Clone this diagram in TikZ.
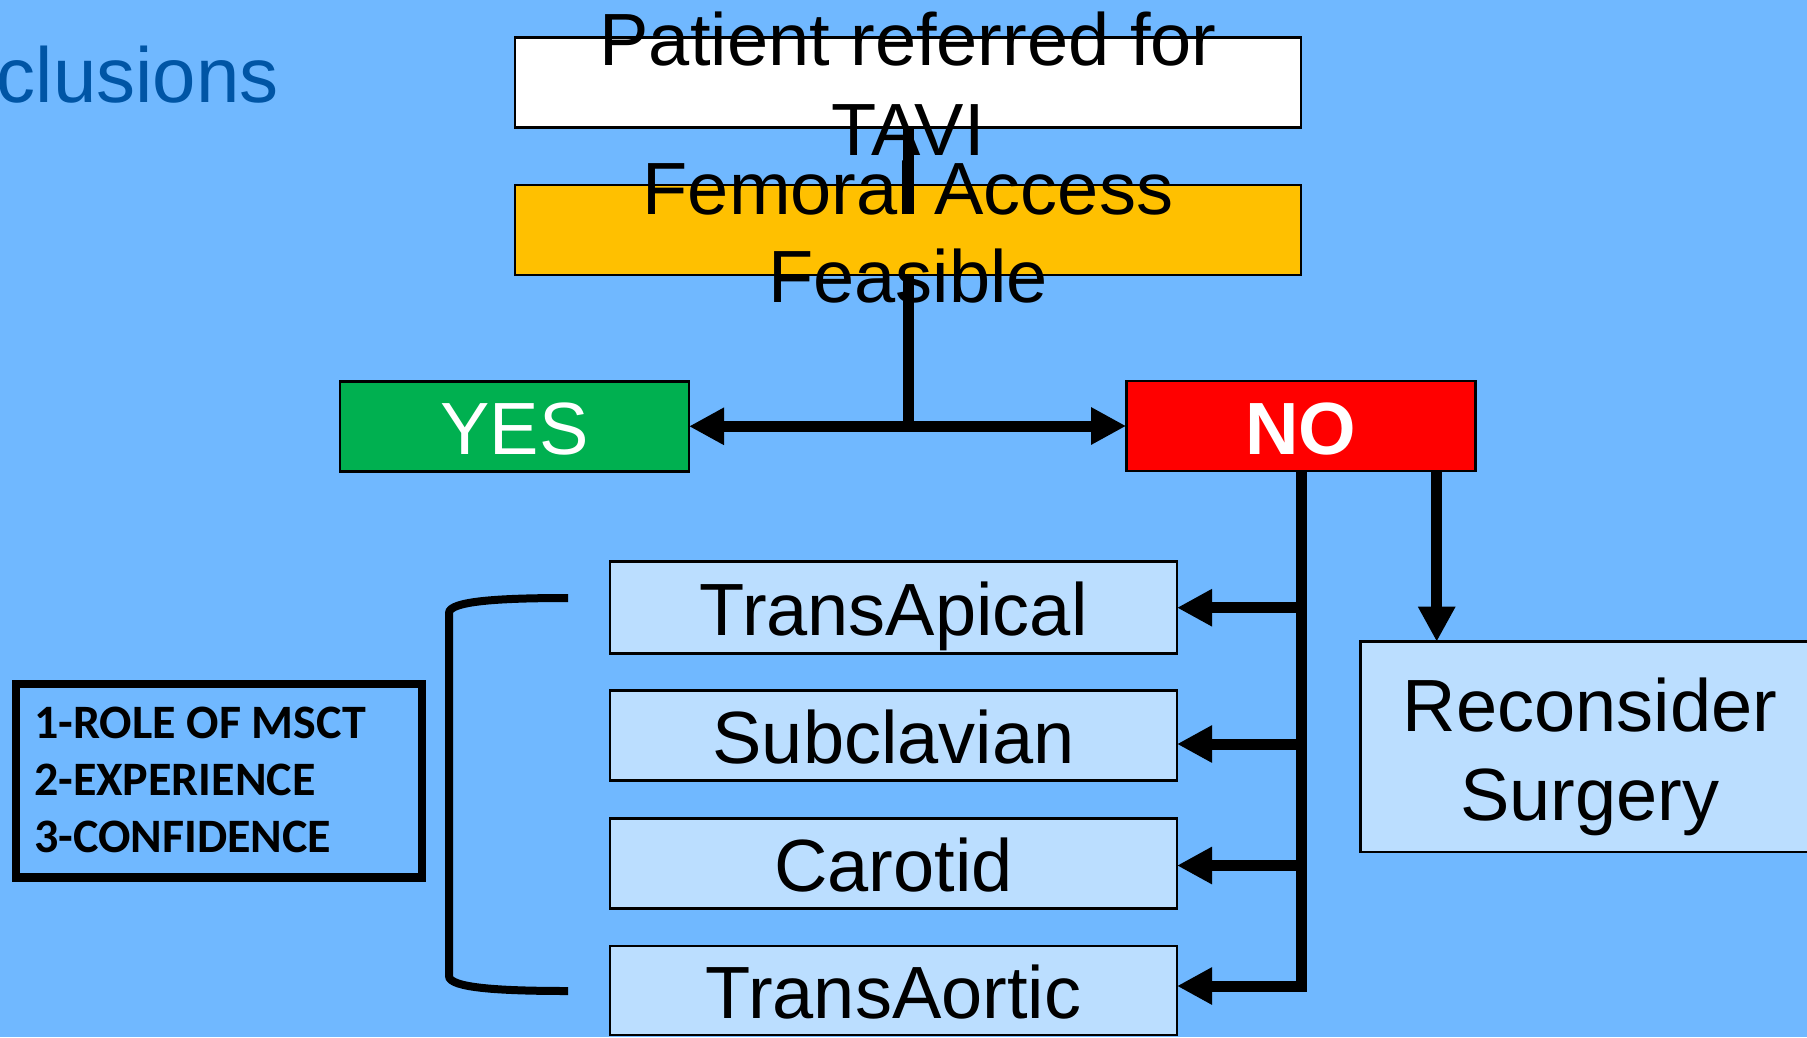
\documentclass[tikz,border=0pt]{standalone}
\usepackage{fontspec}
\setmainfont{Liberation Sans}
\newfontfamily\critfont{Carlito}
\usetikzlibrary{arrows.meta}
\definecolor{bgblue}{RGB}{112,184,255}
\definecolor{titleblue}{RGB}{0,85,165}
\definecolor{amber}{RGB}{255,192,0}
\definecolor{okgreen}{RGB}{0,176,80}
\definecolor{paleblue}{RGB}{187,222,255}
\begin{document}
\begin{tikzpicture}[x=1pt,y=-1pt,
  every node/.style={inner sep=0pt, outer sep=0pt},
  bigtext/.style={font=\fontsize{74pt}{89pt}\selectfont},
  flowbox/.style={draw=black, line width=2.8pt, rectangle, bigtext,
    minimum height=90pt, text height=56pt, text depth=0pt},
  routebox/.style={flowbox, fill=paleblue, minimum width=567pt},
  link/.style={line width=11pt, draw=black},
  arrowed/.style={-{Triangle[length=35pt,width=35pt]}},
  critline/.style={font=\critfont\bfseries\fontsize{48pt}{57pt}\selectfont, anchor=base west}]

% page and background
\useasboundingbox (0,0) rectangle (1807,1037);
\fill[bgblue] (0,0) rectangle (1807,1037);

% slide title remnant
\node[font=\fontsize{78pt}{94pt}\selectfont, text=titleblue, anchor=base east] (ttl) at (278.5,102) {clusions};

% criteria box
\node[draw=black, line width=8.3pt, rectangle, minimum width=405.9pt, minimum height=193.3pt] (crit) at (218.75,780.85) {};
\node[critline] (crit1) at (34,738.3) {1-ROLE OF MSCT};
\node[critline] (crit2) at (34,795) {2-EXPERIENCE};
\node[critline] (crit3) at (34,852.7) {3-CONFIDENCE};

% bracket grouping the alternative routes
\draw[line width=8pt] (568,598) .. controls (500,598) and (449,601) .. (449,613)
  -- (449,976) .. controls (449,988) and (500,991) .. (568,991);

% main flow boxes
\node[flowbox, fill=white, minimum width=786pt] (pat) at (908,82.7) {};
\node[flowbox, fill=amber, minimum width=786pt] (fem) at (908,230) {};
\node[flowbox, fill=okgreen, text=white, minimum width=349pt] (yes) at (514.5,426.3) {YES};
\node[flowbox, fill=red, text=white, font=\fontsize{74pt}{89pt}\selectfont\bfseries, minimum width=349.7pt] (no) at (1301,426) {NO};

% alternative access routes
\node[routebox, minimum height=92pt] (apical) at (893.5,607.7) {TransApical};
\node[routebox] (subcl) at (893.5,735.7) {Subclavian};
\node[routebox] (carot) at (893.5,863.5) {Carotid};
\node[routebox, minimum height=89pt] (aortic) at (893.5,990.5) {TransAortic};

% surgical option
\node[draw=black, line width=2.8pt, fill=paleblue, rectangle, minimum width=459pt, minimum height=210.3pt] (recon) at (1590,746.85) {};

% connectors
\coordinate (femjoin) at (908,214);
\draw[link] (pat.south) -- (femjoin);
\draw[link,arrowed] (fem.south) |- (yes.east);
\draw[link,arrowed] (fem.south) |- (no.west);

\coordinate (b1) at (1301,607.7);
\coordinate (b2) at (1301,744);
\coordinate (b3) at (1301,865.5);
\coordinate (b4) at (1301,986);
\draw[link,arrowed] (no.south) -- (b4) -- (b4 -| aortic.east);
\draw[link,arrowed] (b1) -- (b1 -| apical.east);
\draw[link,arrowed] (b2) -- (b2 -| subcl.east);
\draw[link,arrowed] (b3) -- (b3 -| carot.east);

\coordinate (rtop) at (1436.7,641.7);
\draw[link,arrowed] (rtop |- no.south) -- (rtop);

% labels that overflow their boxes
\node[bigtext, anchor=base] (patl1) at (908,65.7) {Patient referred for};
\node[bigtext, anchor=base] (patl2) at (908,155.7) {TAVI};
\node[bigtext, anchor=base] (feml1) at (908,214) {Femoral Access};
\node[bigtext, anchor=base] (feml2) at (908,302.7) {Feasible};
\node[bigtext, anchor=base] (recl1) at (1590,731.7) {Reconsider};
\node[bigtext, anchor=base] (recl2) at (1590,820) {Surgery};
\end{tikzpicture}
\end{document}
